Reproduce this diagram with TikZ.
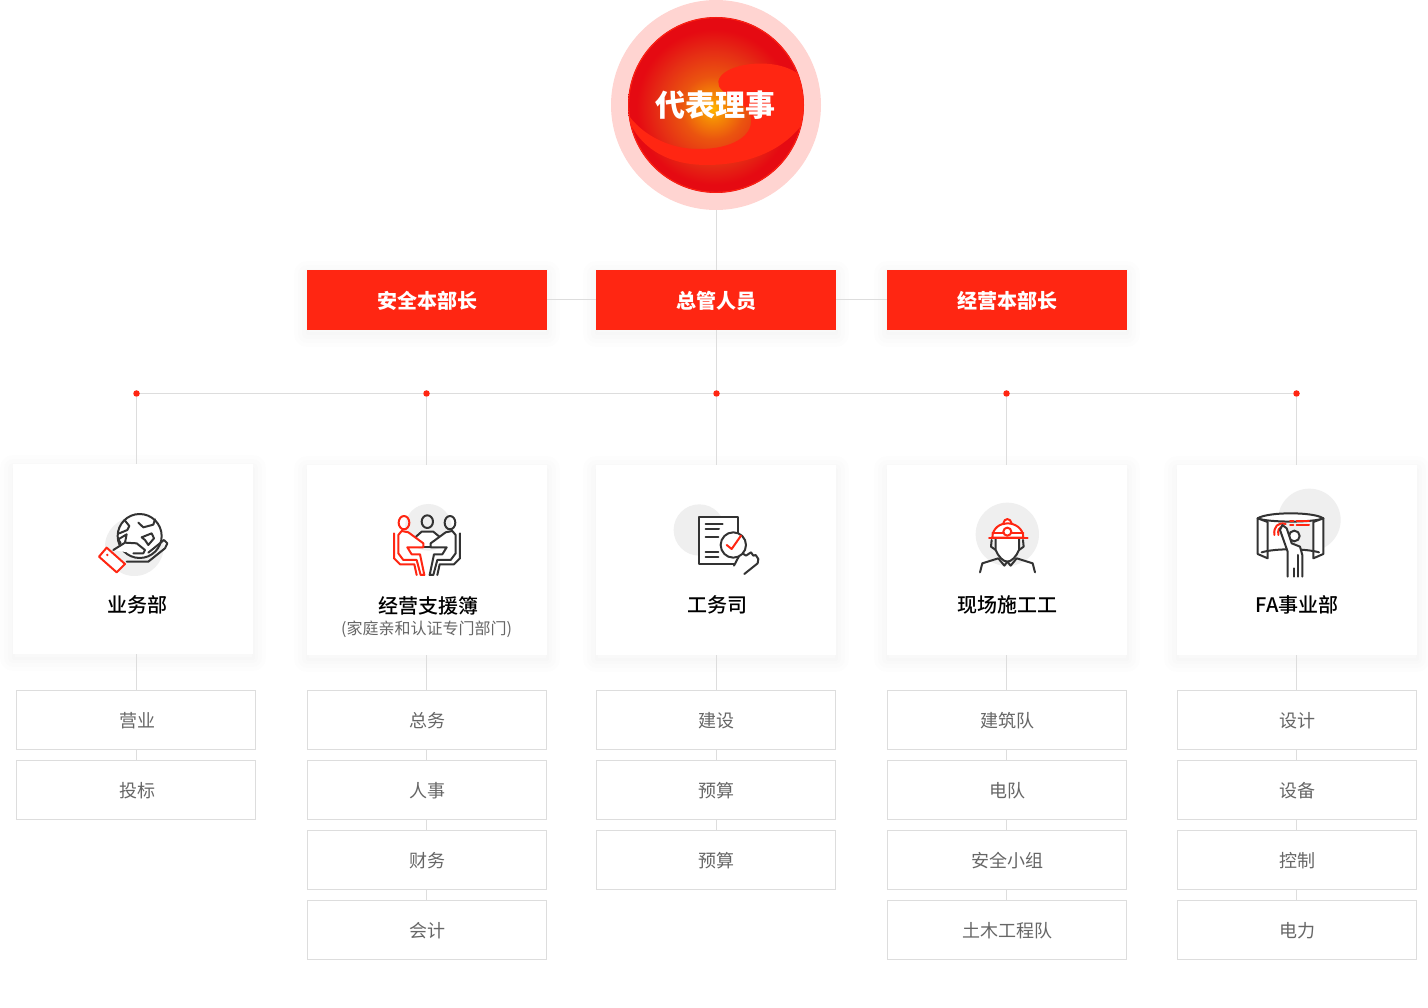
\documentclass[tikz,border=0pt]{standalone}
\usepackage{fontspec}
\setmainfont{Noto Sans CJK SC}
\newfontfamily\medfont{Noto Sans CJK SC Medium}
\usetikzlibrary{positioning}
\definecolor{mainred}{HTML}{FF2612}
\definecolor{ringpink}{HTML}{FFD4D1}
\definecolor{linegray}{HTML}{DDDDDD}
\definecolor{subgray}{HTML}{666666}
\definecolor{icongray}{HTML}{EFEFEF}
\definecolor{icondark}{HTML}{333333}
\pgfdeclareradialshading{ballshade}{\pgfpoint{-1bp}{-1bp}}{
  rgb(0bp)=(1,.72,0);
  rgb(3.5bp)=(.96,.54,.02);
  rgb(9bp)=(.92,.33,.06);
  rgb(16bp)=(.90,.18,.08);
  rgb(22bp)=(.90,.04,.07);
  rgb(50bp)=(.90,.04,.07)}

\begin{document}
\begin{tikzpicture}[
        x=1pt, y=-1pt,
        softshadow/.style={
            preaction={draw=black, draw opacity=.006, line width=26pt, line join=round, transform canvas={yshift=-4pt}},
            preaction={draw=black, draw opacity=.006, line width=18pt, line join=round, transform canvas={yshift=-4pt}},
            preaction={draw=black, draw opacity=.007, line width=10pt, line join=round, transform canvas={yshift=-4pt}},
            preaction={draw=black, draw opacity=.007, line width=3pt, line join=round, transform canvas={yshift=-4pt}}},
        lead/.style={rectangle, softshadow, fill=mainred, text=white, minimum width=240pt, minimum height=60pt, inner sep=0pt, outer sep=0pt, text height=18pt, text depth=1pt, font=\fontsize{20}{24}\selectfont\bfseries},
        card/.style={rectangle, softshadow, fill=white, minimum width=240pt, minimum height=190pt, inner sep=0pt, outer sep=0pt},
        cardtitle/.style={inner sep=0pt, text=black, font=\fontsize{20}{24}\medfont},
        unit/.style={rectangle, draw=linegray, fill=white, line width=1pt, text=subgray, minimum width=239pt, minimum height=59pt, inner sep=0pt, outer sep=.5pt, text height=15pt, text depth=1pt, font=\fontsize{18}{22}\selectfont},
        dot/.style={circle, fill=mainred, minimum size=6.5pt, inner sep=0pt, outer sep=0pt},
        link/.style={draw=linegray, line width=1pt},
        iconat/.style={shift={(#1)}, x=.3333pt, y=-.3333pt, line width=2pt, line join=round, line cap=round},
        dark/.style={draw=icondark},
        redline/.style={draw=mainred},
        node distance=10pt
        ]
        \useasboundingbox (0,0) rectangle (1428,1008);
        % top ball
        \node[circle, fill=ringpink, minimum size=210pt, inner sep=0pt, outer sep=0pt] (ring) at (716,105) {};
        \node[circle, shading=ballshade, minimum size=176pt, inner sep=0pt, outer sep=0pt] (ball) at (716,105) {};
        \begin{scope}[shift={(600,0)}, x=.3333pt, y=-.3333pt]
            \clip (348,315) circle (263);
            \fill[mainred] (60,300) .. controls (100,400) and (210,450) .. (300,447) .. controls (390,447) and (465,410) .. (452,350) .. controls (440,300) and (350,285) .. (355,245) .. controls (360,205) and (450,180) .. (530,195) .. controls (565,202) and (590,215) .. (620,240) -- (640,340) -- (605,375) .. controls (540,460) and (430,495) .. (320,495) .. controls (210,495) and (130,450) .. (90,370) -- cycle;
            \draw[mainred, line width=1pt] (348,315) circle (262);
        \end{scope}
        \node[text=white, inner sep=0pt, font=\fontsize{30}{36}\selectfont\bfseries] (boss) at (715,105) {代表理事};
        % leaders
        \node[lead] (safety) at (427,300) {安全本部长};
        \node[lead] (chief) at (716,300) {总管人员};
        \node[lead] (manage) at (1007,300) {经营本部长};
        % dots
        \node[dot] (dot1) at (136.5,393.5) {};
        \node[dot] (dot2) at (426.5,393.5) {};
        \node[dot] (dot3) at (716.5,393.5) {};
        \node[dot] (dot4) at (1006.5,393.5) {};
        \node[dot] (dot5) at (1296.5,393.5) {};
        % cards
        \node[card] (card1) at (133,559) {};
        \node[card] (card2) at (427,560) {};
        \node[card] (card3) at (716,560) {};
        \node[card] (card4) at (1007,560) {};
        \node[card] (card5) at (1297,560) {};
        \node[cardtitle] (title1) at (137,605) {业务部};
        \node[cardtitle] (title2) at (428,606) {经营支援簿};
        \node[inner sep=0pt, text=subgray, font=\fontsize{16}{20}\selectfont, below=5pt of title2, xshift=-1.5pt] (note2) {(家庭亲和认证专门部门)};
        \node[cardtitle] (title3) at (717,605) {工务司};
        \node[cardtitle] (title4) at (1007,605) {现场施工工};
        \node[cardtitle] (title5) at (1297,605) {FA事业部};
        % units
        \node[unit] (u11) at (136,720) {\hspace{2pt}营业};
        \node[unit, below=of u11] (u12) {\hspace{2pt}投标};
        \node[unit] (u21) at (427,720) {总务};
        \node[unit, below=of u21] (u22) {人事};
        \node[unit, below=of u22] (u23) {财务};
        \node[unit, below=of u23] (u24) {会计};
        \node[unit] (u31) at (716,720) {建设};
        \node[unit, below=of u31] (u32) {预算};
        \node[unit, below=of u32] (u33) {预算};
        \node[unit] (u41) at (1007,720) {建筑队};
        \node[unit, below=of u41] (u42) {电队};
        \node[unit, below=of u42] (u43) {安全小组};
        \node[unit, below=of u43] (u44) {土木工程队};
        \node[unit] (u51) at (1297,720) {设计};
        \node[unit, below=of u51] (u52) {设备};
        \node[unit, below=of u52] (u53) {控制};
        \node[unit, below=of u53] (u54) {电力};
        % links
        \draw[link] (ring.south -| dot3) -- (chief.north -| dot3);
        \draw[link] (safety) -- (chief);
        \draw[link] (chief) -- (manage);
        \draw[link] (chief.south -| dot3) -- (dot3);
        \draw[link] (dot1) -- (dot2);
        \draw[link] (dot2) -- (dot3);
        \draw[link] (dot3) -- (dot4);
        \draw[link] (dot4) -- (dot5);
        \draw[link] (dot1) -- (dot1 |- card1.north);
        \draw[link] (dot2) -- (dot2 |- card2.north);
        \draw[link] (dot3) -- (dot3 |- card3.north);
        \draw[link] (dot4) -- (dot4 |- card4.north);
        \draw[link] (dot5) -- (dot5 |- card5.north);
        \draw[link] (dot1 |- card1.south) -- (dot1 |- u11.north);
        \draw[link] (dot2 |- card2.south) -- (dot2 |- u21.north);
        \draw[link] (dot3 |- card3.south) -- (dot3 |- u31.north);
        \draw[link] (dot4 |- card4.south) -- (dot4 |- u41.north);
        \draw[link] (dot5 |- card5.south) -- (dot5 |- u51.north);
        \draw[link] (dot1 |- u11.south) -- (dot1 |- u12.north);
        \draw[link] (dot2 |- u21.south) -- (dot2 |- u22.north);
        \draw[link] (dot2 |- u22.south) -- (dot2 |- u23.north);
        \draw[link] (dot2 |- u23.south) -- (dot2 |- u24.north);
        \draw[link] (dot3 |- u31.south) -- (dot3 |- u32.north);
        \draw[link] (dot3 |- u32.south) -- (dot3 |- u33.north);
        \draw[link] (dot4 |- u41.south) -- (dot4 |- u42.north);
        \draw[link] (dot4 |- u42.south) -- (dot4 |- u43.north);
        \draw[link] (dot4 |- u43.south) -- (dot4 |- u44.north);
        \draw[link] (dot5 |- u51.south) -- (dot5 |- u52.north);
        \draw[link] (dot5 |- u52.south) -- (dot5 |- u53.north);
        \draw[link] (dot5 |- u53.south) -- (dot5 |- u54.north);
        % globe icon
        \begin{scope}[iconat={90,500}]
            \fill[icongray] (133,140) circle (88);
            \draw[dark, fill=white] (149,108) circle (66);
            \draw[dark] (88,100) -- (112,90) -- (118,78) -- (105,62);
            \draw[dark] (145,68) -- (160,82) -- (190,74) -- (195,58);
            \draw[dark] (92,130) -- (85,118) -- (110,103) -- (105,128);
            \draw[dark] (155,112) -- (185,100) -- (192,115) -- (175,135) -- (165,120) -- (155,112);
            \draw[dark, fill=white] (70,150) -- (105,128) -- (140,130) -- (165,150) -- (160,160) -- (130,160);
            \draw[dark] (175,158) -- (222,120) -- (232,130) -- (225,145) -- (175,185) -- (110,185);
            \draw[redline, fill=white] (50,143) -- (105,192) -- (80,217) -- (27,170) -- cycle;
            \fill[mainred] (52,165) circle (4);
        \end{scope}
        % meeting icon
        \begin{scope}[iconat={380,495}]
            \fill[icongray] (145,97) circle (70);
            \draw[dark] (142,80) ellipse [x radius=17, y radius=19];
            \draw[dark] (210,83) ellipse [x radius=16, y radius=20];
            \draw[redline] (72,83) ellipse [x radius=16, y radius=20];
            \draw[dark, fill=white] (108,155) -- (108,125) -- (125,110) -- (160,110) -- (178,125) -- (178,155);
            \draw[dark] (95,157) -- (190,157);
            \draw[redline, fill=white] (82,157) -- (130,157) -- (130,145) -- (85,112) -- (65,108) -- (55,120) -- (55,175) -- (70,195) -- (110,195) -- (122,240) -- (133,240) -- (120,178) -- (95,178) -- cycle;
            \draw[redline] (42,115) -- (42,190) -- (60,208) -- (103,208) -- (110,240);
            \draw[dark, fill=white] (200,157) -- (152,157) -- (152,145) -- (197,112) -- (217,108) -- (227,120) -- (227,175) -- (212,195) -- (172,195) -- (160,240) -- (149,240) -- (162,178) -- (187,178) -- cycle;
            \draw[dark] (240,115) -- (240,190) -- (222,208) -- (179,208) -- (172,240);
        \end{scope}
        % inspection icon
        \begin{scope}[iconat={665,495}]
            \fill[icongray] (103,105) circle (77);
            \draw[dark, fill=white, line cap=butt] (103,65) rectangle (220,207);
            \draw[dark] (122,87) -- (173,87);
            \draw[dark] (122,103) -- (162,103);
            \draw[dark] (122,125) -- (160,125);
            \draw[dark] (122,170) -- (160,170);
            \draw[dark] (122,187) -- (160,187);
            \draw[dark, fill=white] (207,212) -- (228,172) -- (243,182) -- (258,172) -- (265,182) -- (272,180) -- (280,192) -- (278,205) -- (238,237);
            \draw[dark, fill=white] (205,150) circle (38);
            \draw[redline] (185,150) -- (200,162) -- (228,122);
        \end{scope}
        % worker icon
        \begin{scope}[iconat={965,495}]
            \fill[icongray] (127,118) circle (95);
            \draw[dark] (80,135) -- (78,155) -- (92,165);
            \draw[dark] (174,135) -- (176,155) -- (162,165);
            \draw[dark, fill=white] (92,130) -- (92,165) .. controls (100,185) and (115,200) .. (127,200) .. controls (139,200) and (154,185) .. (162,165) -- (162,130);
            \draw[dark] (45,232) -- (52,205) -- (100,190) -- (118,212) -- (127,200) -- (137,212) -- (155,190) -- (203,205) -- (210,232);
            \draw[redline, fill=white] (115,85) .. controls (118,68) and (136,68) .. (140,85);
            \draw[redline, fill=white] (82,128) .. controls (82,100) and (105,85) .. (127,85) .. controls (150,85) and (175,100) .. (175,128) -- cycle;
            \draw[redline] (82,114) -- (175,114);
            \draw[redline] (72,130) -- (188,130);
            \draw[redline, fill=white] (127,110) circle (12);
        \end{scope}
        % screen icon
        \begin{scope}[iconat={1245,480}]
            \fill[icongray] (193,120) circle (94);
            \draw[dark, fill=white] (38,115) .. controls (70,95) and (205,95) .. (235,115) .. controls (205,128) and (70,128) .. (38,115) -- cycle;
            \draw[dark, fill=white] (38,115) -- (38,222) -- (68,235) -- (68,126) -- cycle;
            \draw[dark, fill=white] (235,115) -- (235,222) -- (205,235) -- (205,126) -- cycle;
            \draw[dark] (50,217) .. controls (90,205) and (180,205) .. (222,217);
            \draw[redline] (88,165) .. controls (85,140) and (100,125) .. (122,132);
            \draw[redline] (100,165) .. controls (98,150) and (102,142) .. (110,140);
            \draw[redline] (135,122) -- (145,122);
            \draw[redline] (155,122) -- (192,122);
            \draw[redline] (135,135) -- (145,135);
            \draw[redline] (155,135) -- (192,135);
            \draw[dark, fill=white] (148,168) circle (16);
            \draw[dark, fill=white] (128,290) -- (128,215) -- (105,150) -- (112,135) -- (125,145) -- (140,190) -- (165,200) -- (172,225) -- (172,290);
            \draw[dark] (147,265) -- (147,290);
            \draw[dark] (160,225) -- (160,290);
        \end{scope}
    \end{tikzpicture}
\end{document}
